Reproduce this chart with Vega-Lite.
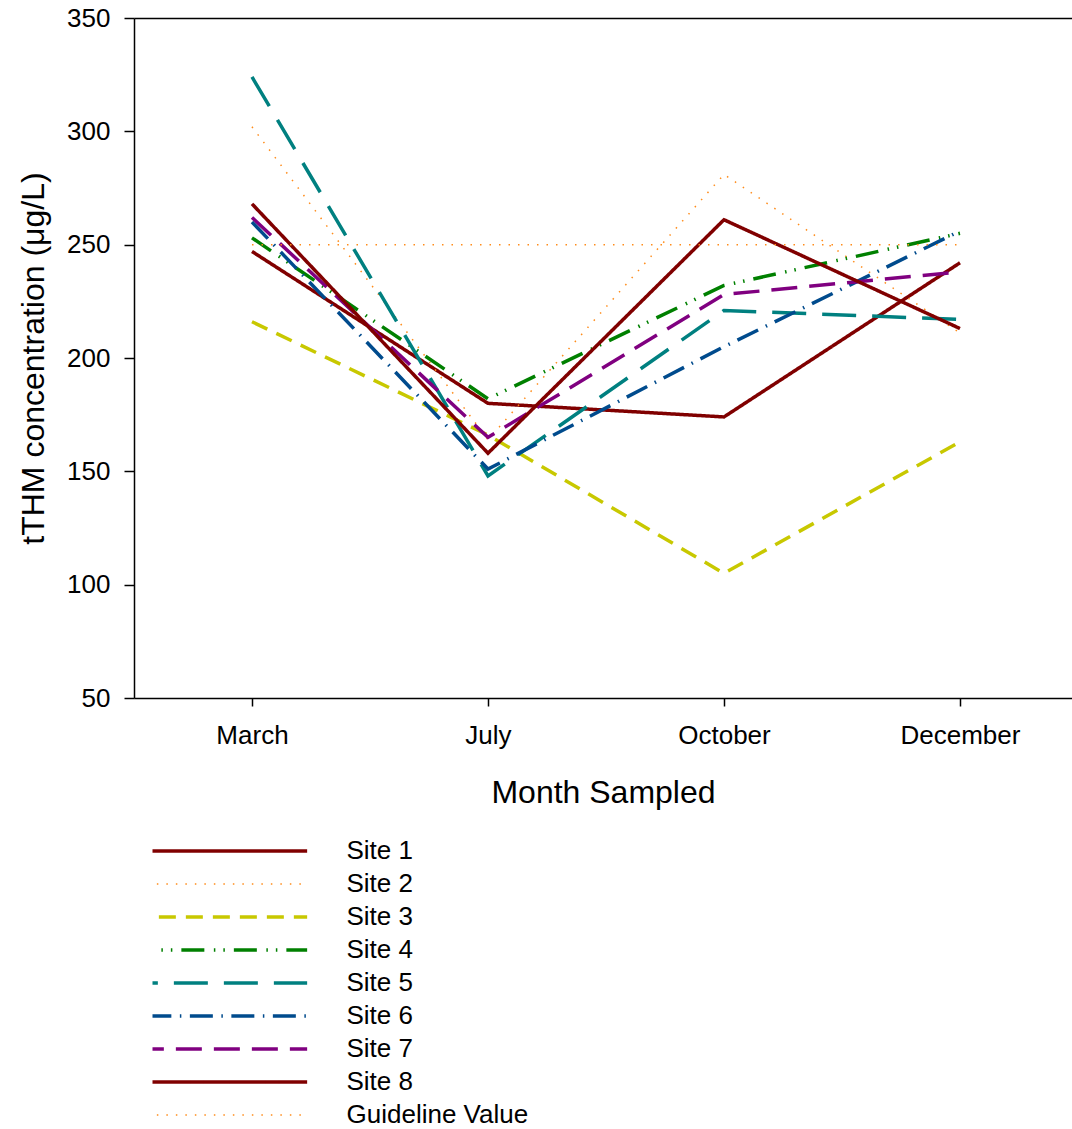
{
  "$schema": "https://vega.github.io/schema/vega-lite/v6.json",
  "width": 938,
  "height": 680,
  "autosize": {"type": "none"},
  "padding": {"left": 134, "top": 18, "right": 0, "bottom": 431},
  "background": "white",
  "config": {
    "view": {"stroke": null},
    "font": "Liberation Sans",
    "axis": {"grid": false, "domainColor": "black", "tickColor": "black", "labelColor": "black", "titleColor": "black", "titleFontWeight": "normal", "labelFont": "Liberation Sans", "titleFont": "Liberation Sans"}
  },
  "data": {
    "values": [
      {"site": "Site 1", "month": "March", "value": 247},
      {"site": "Site 1", "month": "July", "value": 180},
      {"site": "Site 1", "month": "October", "value": 174},
      {"site": "Site 1", "month": "December", "value": 242},
      {"site": "Site 2", "month": "March", "value": 302},
      {"site": "Site 2", "month": "July", "value": 164},
      {"site": "Site 2", "month": "October", "value": 281},
      {"site": "Site 2", "month": "December", "value": 211},
      {"site": "Site 3", "month": "March", "value": 216},
      {"site": "Site 3", "month": "July", "value": 166},
      {"site": "Site 3", "month": "October", "value": 105},
      {"site": "Site 3", "month": "December", "value": 163},
      {"site": "Site 4", "month": "March", "value": 253},
      {"site": "Site 4", "month": "July", "value": 182},
      {"site": "Site 4", "month": "October", "value": 232},
      {"site": "Site 4", "month": "December", "value": 255},
      {"site": "Site 5", "month": "March", "value": 324},
      {"site": "Site 5", "month": "July", "value": 148},
      {"site": "Site 5", "month": "October", "value": 221},
      {"site": "Site 5", "month": "December", "value": 217},
      {"site": "Site 6", "month": "March", "value": 260},
      {"site": "Site 6", "month": "July", "value": 151},
      {"site": "Site 6", "month": "October", "value": 205},
      {"site": "Site 6", "month": "December", "value": 256},
      {"site": "Site 7", "month": "March", "value": 262},
      {"site": "Site 7", "month": "July", "value": 165},
      {"site": "Site 7", "month": "October", "value": 228},
      {"site": "Site 7", "month": "December", "value": 238},
      {"site": "Site 8", "month": "March", "value": 268},
      {"site": "Site 8", "month": "July", "value": 158},
      {"site": "Site 8", "month": "October", "value": 261},
      {"site": "Site 8", "month": "December", "value": 213},
      {"site": "Guideline Value", "month": "March", "value": 250},
      {"site": "Guideline Value", "month": "July", "value": 250},
      {"site": "Guideline Value", "month": "October", "value": 250},
      {"site": "Guideline Value", "month": "December", "value": 250}
    ]
  },
  "layer": [
    {
      "mark": {"type": "line", "strokeCap": "butt", "strokeJoin": "miter"},
      "encoding": {
        "x": {
          "field": "month", "type": "ordinal",
          "sort": ["March", "July", "October", "December"],
          "scale": {"type": "point", "padding": 0.4873, "align": 0.513},
          "axis": {"orient": "bottom", "title": "Month Sampled", "labelAngle": 0, "labelFontSize": 26, "tickSize": 8, "tickWidth": 1.5, "domainWidth": 1.5, "labelPadding": 16, "titleFontSize": 32, "titlePadding": 29}
        },
        "y": {
          "field": "value", "type": "quantitative",
          "scale": {"domain": [50, 350], "nice": false, "zero": false},
          "axis": {"title": "tTHM concentration (μg/L)", "values": [50, 100, 150, 200, 250, 300, 350], "labelFontSize": 26, "tickSize": 10, "tickWidth": 1.5, "domainWidth": 1.5, "labelPadding": 14, "titleFontSize": 32, "titlePadding": 16}
        },
        "color": {
          "field": "site", "type": "nominal",
          "scale": {
            "domain": ["Site 1", "Site 2", "Site 3", "Site 4", "Site 5", "Site 6", "Site 7", "Site 8", "Guideline Value"],
            "range": ["#800000", "#FF8C1A", "#C8C800", "#008000", "#008080", "#004B8D", "#800080", "#800000", "#FF8C1A"]
          },
          "legend": {"orient": "none", "legendX": 18.5, "legendY": 820, "title": null, "padding": 0, "symbolType": "stroke", "symbolSize": 80250, "symbolStrokeWidth": 3.5, "clipHeight": 26, "rowPadding": 7, "labelFontSize": 26, "labelOffset": 168, "labelColor": "black", "labelLimit": 400, "labelFont": "Liberation Sans",
            "encode": {"symbols": {"update": {"strokeWidth": {"signal": "datum.value === 'Site 2' || datum.value === 'Guideline Value' ? 1.5 : 3.5"}}}}}
        },
        "strokeDash": {
          "field": "site", "type": "nominal",
          "scale": {
            "domain": ["Site 1", "Site 2", "Site 3", "Site 4", "Site 5", "Site 6", "Site 7", "Site 8", "Guideline Value"],
            "range": [[1, 0], [1.5, 8], [17, 10], [23, 9.5, 1.5, 8, 1.5, 9], [34, 16], [23, 8.5, 1.5, 8.5], [26, 12], [1, 0], [1.5, 8]]
          },
          "legend": {"orient": "none", "legendX": 18.5, "legendY": 820, "title": null, "padding": 0, "symbolType": "stroke", "symbolSize": 80250, "symbolStrokeWidth": 3.5, "clipHeight": 26, "rowPadding": 7, "labelFontSize": 26, "labelOffset": 168, "labelColor": "black", "labelLimit": 400, "labelFont": "Liberation Sans",
            "encode": {"symbols": {"update": {"strokeWidth": {"signal": "datum.value === 'Site 2' || datum.value === 'Guideline Value' ? 1.5 : 3.5"}}}}}
        },
        "strokeWidth": {
          "condition": {"test": "datum.site === 'Site 2' || datum.site === 'Guideline Value'", "value": 1.5},
          "value": 3.5
        }
      }
    },
    {
      "mark": {"type": "point", "opacity": 0},
      "encoding": {
        "x": {
          "field": "month", "type": "ordinal",
          "sort": ["March", "July", "October", "December"],
          "axis": {"orient": "top", "labels": false, "ticks": false, "title": null, "domain": true, "domainWidth": 1.5, "domainColor": "black"}
        },
        "y": {
          "field": "value", "type": "quantitative",
          "axis": {"title": "tTHM concentration (μg/L)", "values": [50, 100, 150, 200, 250, 300, 350], "labelFontSize": 26, "tickSize": 10, "tickWidth": 1.5, "domainWidth": 1.5, "labelPadding": 14, "titleFontSize": 32, "titlePadding": 16}
        }
      }
    }
  ],
  "resolve": {"axis": {"x": "independent"}}
}
